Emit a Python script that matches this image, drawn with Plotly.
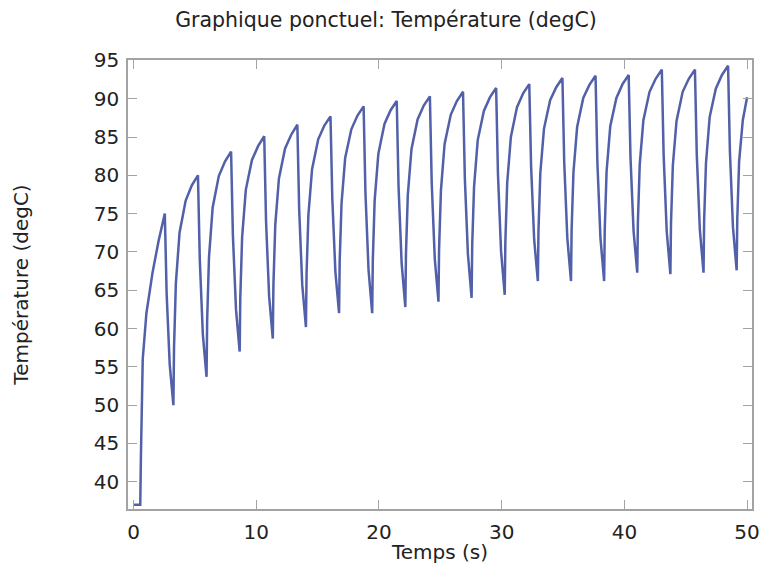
import plotly.graph_objects as go

# Time (s) and temperature (degC)
times = [
    0.0, 0.55,
    0.6, 0.75, 1.05, 1.55, 2.05, 2.55, 2.7, 2.95, 3.25,
    3.3, 3.45, 3.75, 4.25, 4.75, 5.25, 5.4, 5.65, 5.95,
    6.0, 6.15, 6.45, 6.95, 7.45, 7.95, 8.1, 8.35, 8.65,
    8.7, 8.85, 9.15, 9.65, 10.15, 10.65, 10.8, 11.05, 11.35,
    11.4, 11.55, 11.85, 12.35, 12.85, 13.35, 13.5, 13.75, 14.05,
    14.1, 14.25, 14.55, 15.05, 15.55, 16.05, 16.2, 16.45, 16.75,
    16.8, 16.95, 17.25, 17.75, 18.25, 18.75, 18.9, 19.15, 19.45,
    19.5, 19.65, 19.95, 20.45, 20.95, 21.45, 21.6, 21.85, 22.15,
    22.2, 22.35, 22.65, 23.15, 23.65, 24.15, 24.3, 24.55, 24.85,
    24.9, 25.05, 25.35, 25.85, 26.35, 26.85, 27.0, 27.25, 27.55,
    27.6, 27.75, 28.05, 28.55, 29.05, 29.55, 29.7, 29.95, 30.25,
    30.3, 30.45, 30.75, 31.25, 31.75, 32.25, 32.4, 32.65, 32.95,
    33.0, 33.15, 33.45, 33.95, 34.45, 34.95, 35.1, 35.35, 35.65,
    35.7, 35.85, 36.15, 36.65, 37.15, 37.65, 37.8, 38.05, 38.35,
    38.4, 38.55, 38.85, 39.35, 39.85, 40.35, 40.5, 40.75, 41.05,
    41.1, 41.25, 41.55, 42.05, 42.55, 43.05, 43.2, 43.45, 43.75,
    43.8, 43.95, 44.25, 44.75, 45.25, 45.75, 45.9, 46.15, 46.45,
    46.5, 46.65, 46.95, 47.45, 47.95, 48.45, 48.6, 48.85, 49.15,
    49.2, 49.35, 49.65, 50.0,
]

temperature = [
    37.0, 37.0,
    43.0, 56.0, 62.0, 67.3, 71.5, 75.0, 64.5, 55.3, 50.0,
    57.5, 65.9, 72.5, 76.7, 78.7, 80.0, 69.0, 59.2, 53.7,
    61.1, 69.3, 75.8, 79.9, 81.8, 83.1, 72.1, 62.5, 57.0,
    64.0, 71.9, 78.1, 82.0, 83.8, 85.1, 74.0, 64.2, 58.7,
    65.7, 73.5, 79.6, 83.5, 85.3, 86.6, 75.5, 65.7, 60.2,
    67.1, 74.8, 80.8, 84.7, 86.5, 87.7, 76.9, 67.4, 62.0,
    68.8, 76.3, 82.3, 86.0, 87.8, 89.0, 77.7, 67.7, 62.0,
    68.9, 76.7, 82.8, 86.7, 88.5, 89.7, 78.4, 68.5, 62.8,
    69.7, 77.4, 83.4, 87.3, 89.1, 90.3, 79.0, 69.1, 63.5,
    70.4, 78.0, 84.1, 87.9, 89.7, 90.9, 79.6, 69.7, 64.0,
    70.9, 78.5, 84.6, 88.4, 90.2, 91.4, 80.1, 70.1, 64.4,
    71.3, 79.0, 85.0, 88.9, 90.7, 91.9, 81.1, 71.6, 66.2,
    72.8, 80.3, 86.1, 89.8, 91.5, 92.7, 81.6, 71.8, 66.2,
    72.9, 80.4, 86.3, 90.1, 91.8, 93.0, 81.7, 71.8, 66.2,
    72.9, 80.5, 86.4, 90.1, 91.9, 93.1, 82.3, 72.7, 67.3,
    73.9, 81.4, 87.2, 90.9, 92.6, 93.8, 82.6, 72.7, 67.1,
    73.8, 81.3, 87.1, 90.9, 92.6, 93.8, 82.7, 72.9, 67.3,
    74.1, 81.6, 87.6, 91.3, 93.1, 94.3, 83.1, 73.2, 67.6,
    74.3, 81.8, 87.2, 90.2,
]

x_ticks = [0, 10, 20, 30, 40, 50]
y_ticks = [40, 45, 50, 55, 60, 65, 70, 75, 80, 85, 90, 95]

FONT = "DejaVu Sans"
AXIS_GRAY = "#a3a3a3"
TEXT = "#222222"

W, H = 763, 564

fig = go.Figure()
fig.add_trace(go.Scatter(
    x=times, y=temperature, mode="lines",
    line=dict(color="#5160a8", width=2.5),
    showlegend=False, hoverinfo="skip",
))

fig.update_layout(
    width=W, height=H, autosize=False,
    margin=dict(l=128, r=11, t=60, b=55),
    paper_bgcolor="white", plot_bgcolor="white",
    font=dict(family=FONT, size=20, color=TEXT),
    title=dict(
        text="Graphique ponctuel: Température (degC)",
        x=386 / W, xanchor="center", xref="container",
        y=1 - 20 / H, yanchor="middle", yref="container",
        font=dict(family=FONT, size=20.5, color=TEXT),
    ),
)

fig.update_xaxes(
    range=[-0.45, 50.4], automargin=False,
    tickmode="array", tickvals=x_ticks, ticktext=[str(v) for v in x_ticks],
    tickfont=dict(family=FONT, size=20, color=TEXT),
    ticklabelstandoff=4,
    ticks="inside", ticklen=9, tickcolor=AXIS_GRAY, tickwidth=1.2,
    showline=True, linecolor=AXIS_GRAY, linewidth=1.5, mirror="ticks",
    showgrid=False, zeroline=False,
    title=dict(text="Temps (s)", standoff=0, font=dict(family=FONT, size=20, color=TEXT)),
)
fig.update_yaxes(
    range=[36.45, 95.05], automargin=False,
    tickmode="array", tickvals=y_ticks, ticktext=[str(v) for v in y_ticks],
    tickfont=dict(family=FONT, size=20, color=TEXT),
    ticklabelstandoff=3,
    ticks="inside", ticklen=9, tickcolor=AXIS_GRAY, tickwidth=1.2,
    showline=True, linecolor=AXIS_GRAY, linewidth=1.5, mirror="ticks",
    showgrid=False, zeroline=False,
    title=dict(text="Température (degC)", standoff=60, font=dict(family=FONT, size=20, color=TEXT)),
)

fig.write_html(
    "out.html",
    config={"displayModeBar": False},
    post_script="document.body.style.margin='0';document.body.style.overflow='hidden';",
)
